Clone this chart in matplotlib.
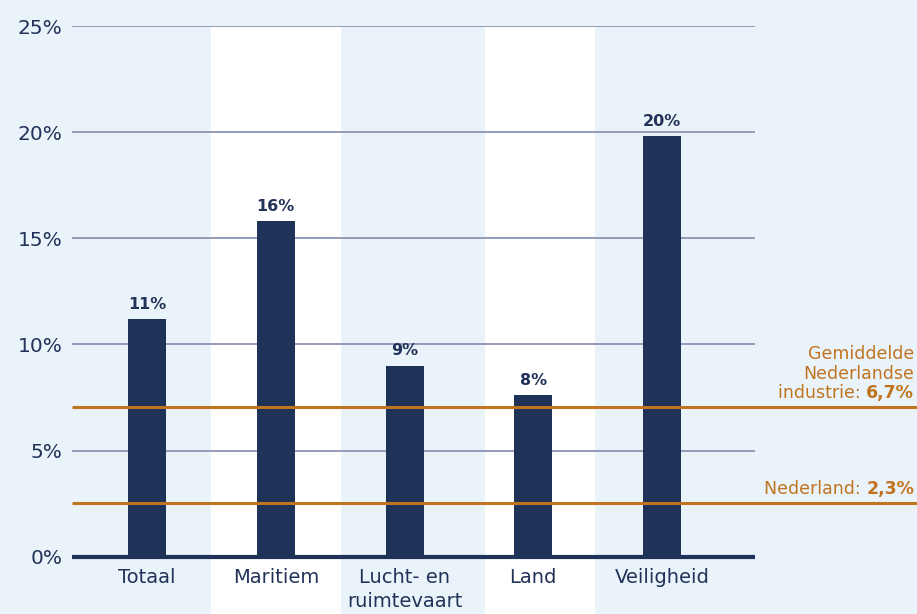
import matplotlib
matplotlib.use("Agg")
import matplotlib.pyplot as plt
from matplotlib.patches import Rectangle
from matplotlib.transforms import blended_transform_factory

# ---- data ----
categories = ["Totaal", "Maritiem", "Lucht- en\nruimtevaart", "Land", "Veiligheid"]
values = [11.2, 15.8, 9.0, 7.6, 19.8]
value_labels = ["11%", "16%", "9%", "8%", "20%"]
yticks = [0, 5, 10, 15, 20, 25]
ytick_labels = ["0%", "5%", "10%", "15%", "20%", "25%"]
ref_positions = [7.05, 2.55]
ref_text_lines = [["Gemiddelde", "Nederlandse", "industrie: "], ["Nederland: "]]
ref_text_bold = ["6,7%", "2,3%"]

# ---- style ----
BG = "#EAF2FA"
NAVY = "#1F3358"
TXT = "#22335A"
GRID = "#8E93B2"
ORANGE = "#C0741F"
plt.rcParams["font.family"] = ["DejaVu Sans"]

W, H = 917, 614
fig = plt.figure(figsize=(W / 100, H / 100), dpi=100, facecolor=BG)
ax = fig.add_axes([72 / W, 1 - 556.7 / H, (755 - 72) / W, (556.7 - 26) / H])
ax.set_facecolor("none")

x = list(range(len(categories)))
ax.set_xlim(-0.5825, 4.722)
ax.set_ylim(0, 25)

# white background bands (Maritiem, Land)
bands = [(1, -0.50, 0.51), (3, -0.375, 0.48)]
tr = blended_transform_factory(ax.transData, fig.transFigure)
for idx, lo, hi in bands:
    r = Rectangle((x[idx] + lo, 0), hi - lo, 1 - 26 / H,
                  transform=tr, facecolor="white", edgecolor="none")
    r.set_zorder(-5)
    fig.patches.append(r)

# grid
for t in yticks[1:]:
    ax.axhline(t, color=GRID, lw=1.3, zorder=1)

bars = ax.bar(x, values, width=0.295, color=NAVY, zorder=2)
for xi, v, lab in zip(x, values, value_labels):
    ax.text(xi, v + 0.35, lab, ha="center", va="bottom", fontsize=11.5,
            fontweight="bold", color=TXT, zorder=4)

for s in ["top", "right", "left"]:
    ax.spines[s].set_visible(False)
ax.spines["bottom"].set_color(NAVY)
ax.spines["bottom"].set_linewidth(3)
ax.spines["bottom"].set_capstyle("butt")
ax.spines["bottom"].set_zorder(5)

ax.set_yticks(yticks)
ax.set_yticklabels(ytick_labels, fontsize=14.5, color=TXT)
ax.tick_params(axis="y", length=0, pad=7)
ax.set_xticks(x)
ax.set_xticklabels(categories, fontsize=14, color=TXT, linespacing=1.35)
ax.tick_params(axis="x", length=0, pad=8)

# reference lines extending to figure edge
for pos in ref_positions:
    ax.plot([ax.get_xlim()[0], 6.0], [pos, pos], color=ORANGE, lw=2.2,
            zorder=3, clip_on=False, solid_capstyle="butt")

# annotation texts (regular + bold part on the last line)
fig.canvas.draw()
renderer = fig.canvas.get_renderer()
xr = 914 / W
line_step = 19.5
fs = 12.5
for pos, lines, bold in zip(ref_positions, ref_text_lines, ref_text_bold):
    ypix = ax.transData.transform((0, pos))[1]
    ybase = ypix + 9
    tb = fig.text(xr, ybase / H, bold, ha="right", va="baseline", fontsize=fs,
                  fontweight="bold", color=ORANGE)
    bb = tb.get_window_extent(renderer)
    fig.text(bb.x0 / W, ybase / H, lines[-1], ha="right", va="baseline",
             fontsize=fs, color=ORANGE)
    for k, ln in enumerate(reversed(lines[:-1]), start=1):
        fig.text(xr, (ybase + k * line_step) / H, ln, ha="right",
                 va="baseline", fontsize=fs, color=ORANGE)

fig.savefig("out.png", dpi=100, facecolor=BG)
